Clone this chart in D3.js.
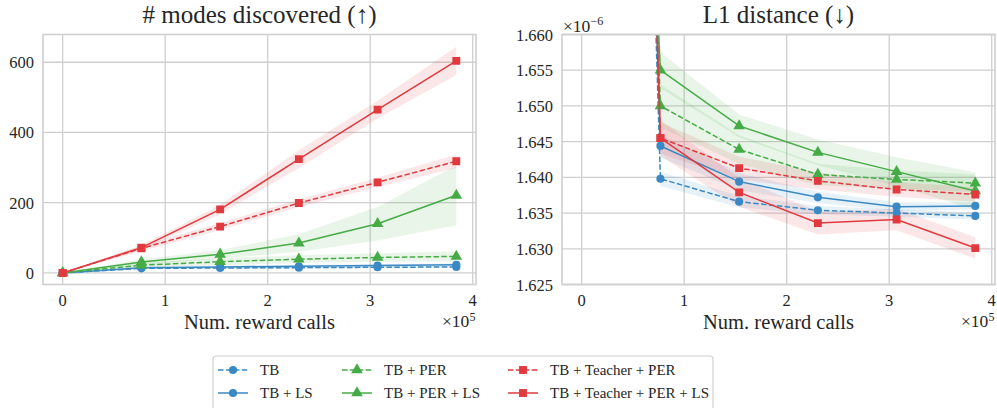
<!DOCTYPE html>
<html><head><meta charset="utf-8">
<script src="https://cdn.jsdelivr.net/npm/d3@7"></script>
</head>
<body style="margin:0;background:#fff">
<svg id="c" width="997" height="408" style="display:block"></svg>
<script>
// ---------- data ----------
const xCalls = [0, 76800, 153600, 230400, 307200, 384000];
const xTicks = [0, 1, 2, 3, 4];            // ×10^5
const seriesNames = ["TB", "TB + LS", "TB + PER", "TB + PER + LS", "TB + Teacher + PER", "TB + Teacher + PER + LS"];

// # modes discovered
const modesTB          = [0, 13, 14, 15, 16, 17];
const modesTBLS        = [0, 15, 17, 19, 21, 23];
const modesPER         = [0, 22, 32, 39, 44, 47];
const modesPERLS       = [0, 31, 53, 85, 140, 221];
const modesTeachPER    = [0, 70, 132, 199, 258, 318];
const modesTeachPERLS  = [0, 72, 181, 324, 465, 604];
// half widths of shaded bands
const modesBandTB         = [0, 2, 3, 3, 3, 3];
const modesBandTBLS       = [0, 3, 3, 4, 4, 4];
const modesBandPER        = [0, 6, 10, 11, 12, 14];
const modesBandPERLS      = [0, 8, 12, 25, 48, 85];
const modesBandTeachPER   = [0, 8, 10, 11, 13, 19];
const modesBandTeachPERLS = [0, 7, 13, 25, 25, 40];
const modesYTicks = [0, 200, 400, 600];

// L1 distance (units of 1e-6)
const l1TB          = [2.00, 1.6398, 1.6366, 1.6354, 1.6350, 1.6346];
const l1TBLS        = [2.00, 1.6444, 1.6394, 1.6372, 1.6359, 1.6360];
const l1PER         = [1.95, 1.6500, 1.6439, 1.6404, 1.6397, 1.6392];
const l1PERLS       = [1.88, 1.6550, 1.6472, 1.6435, 1.6408, 1.6381];
const l1TeachPER    = [2.00, 1.6455, 1.6413, 1.6395, 1.6383, 1.6376];
const l1TeachPERLS  = [2.00, 1.6455, 1.6379, 1.6336, 1.6341, 1.6301];
const l1BandTB         = [0.01, 0.0010, 0.0008, 0.0006, 0.0005, 0.0005];
const l1BandTBLS       = [0.01, 0.0016, 0.0012, 0.0008, 0.0006, 0.0005];
const l1BandPER        = [0.01, 0.0030, 0.0020, 0.0015, 0.0013, 0.0012];
const l1BandPERLS      = [0.01, 0.0025, 0.0016, 0.0018, 0.0020, 0.0026];
const l1BandTeachPER   = [0.01, 0.0022, 0.0016, 0.0012, 0.0010, 0.0010];
const l1BandTeachPERLS = [0.01, 0.0025, 0.0020, 0.0016, 0.0015, 0.0015];
const l1YTicks = [1.625, 1.630, 1.635, 1.640, 1.645, 1.650, 1.655, 1.660];

// ---------- styles ----------
const FONT = '"Liberation Serif"';
const colors = {blue:"#3a89c4", green:"#45ac45", red:"#e0393e"};
const styles = [
  {c:colors.blue,  dash:true,  m:"circle"},
  {c:colors.blue,  dash:false, m:"circle"},
  {c:colors.green, dash:true,  m:"triangle"},
  {c:colors.green, dash:false, m:"triangle"},
  {c:colors.red,   dash:true,  m:"square"},
  {c:colors.red,   dash:false, m:"square"}
];
const modesSeries = [modesTB, modesTBLS, modesPER, modesPERLS, modesTeachPER, modesTeachPERLS];
const modesBands  = [modesBandTB, modesBandTBLS, modesBandPER, modesBandPERLS, modesBandTeachPER, modesBandTeachPERLS];
const l1Series = [l1TB, l1TBLS, l1PER, l1PERLS, l1TeachPER, l1TeachPERLS];
const l1Bands  = [l1BandTB, l1BandTBLS, l1BandPER, l1BandPERLS, l1BandTeachPER, l1BandTeachPERLS];

const svg = d3.select("#c");
const gridCol = "#cfcfcf", textCol = "#262626";
const symbols = {circle:d3.symbolCircle, triangle:d3.symbolTriangle, square:d3.symbolSquare};
const symSize = {circle:52, triangle:58, square:62};

function txt(sel, size){ return sel.style("font-family", FONT).style("font-size", size+"px").attr("fill", textCol); }

function drawPanel(opt){
  const {x0,x1,y0,y1,yDomain,yTicks,yFmt,series,bands,title,id} = opt;
  const x = d3.scaleLinear().domain([-0.192e5, 4.032e5]).range([x0,x1]);
  const y = d3.scaleLinear().domain(yDomain).range([y1,y0]);
  const g = svg.append("g");
  g.append("clipPath").attr("id",id).append("rect")
    .attr("x",x0).attr("y",y0).attr("width",x1-x0).attr("height",y1-y0);
  // grid
  g.append("g").selectAll("line").data(xTicks).join("line")
    .attr("x1",d=>x(d*1e5)).attr("x2",d=>x(d*1e5)).attr("y1",y0).attr("y2",y1)
    .attr("stroke",gridCol).attr("stroke-width",1.3);
  g.append("g").selectAll("line").data(yTicks).join("line")
    .attr("y1",d=>y(d)).attr("y2",d=>y(d)).attr("x1",x0).attr("x2",x1)
    .attr("stroke",gridCol).attr("stroke-width",1.3);
  const plot = g.append("g").attr("clip-path",`url(#${id})`);
  // bands
  series.forEach((s,i)=>{
    const area = d3.area().x((d,j)=>x(xCalls[j])).y0((d,j)=>y(d-bands[i][j])).y1((d,j)=>y(d+bands[i][j]));
    plot.append("path").attr("d",area(s)).attr("fill",styles[i].c).attr("fill-opacity",0.12);
  });
  // lines
  series.forEach((s,i)=>{
    const line = d3.line().x((d,j)=>x(xCalls[j])).y(d=>y(d));
    plot.append("path").attr("d",line(s)).attr("fill","none").attr("stroke",styles[i].c)
      .attr("stroke-width",1.5).attr("stroke-dasharray",styles[i].dash?"5.5,2.4":null);
    plot.append("g").selectAll("path").data(s).join("path")
      .attr("transform",(d,j)=>`translate(${x(xCalls[j])},${y(d)})`)
      .attr("d",d3.symbol().type(symbols[styles[i].m]).size(symSize[styles[i].m]))
      .attr("fill",styles[i].c);
  });
  // frame
  g.append("rect").attr("x",x0).attr("y",y0).attr("width",x1-x0).attr("height",y1-y0)
    .attr("fill","none").attr("stroke",gridCol).attr("stroke-width",1.6);
  // tick labels
  txt(g.append("g").selectAll("text").data(xTicks).join("text"), 16.5)
    .attr("x",d=>x(d*1e5)).attr("y",y1+21).attr("text-anchor","middle").text(d=>d);
  txt(g.append("g").selectAll("text").data(yTicks).join("text"), 16.5)
    .attr("x",x0-9).attr("y",d=>y(d)+6).attr("text-anchor","end").text(yFmt);
  // axis label
  txt(g.append("text"), 20.5).attr("x",(x0+x1)/2).attr("y",329).attr("text-anchor","middle")
    .text("Num. reward calls");
  const off = txt(g.append("text"), 17.5).attr("x",x1-34).attr("y",326.5);
  off.append("tspan").text("×10");
  off.append("tspan").attr("dy",-6).style("font-size","12px").text("5");
  // title
  txt(g.append("text"), 25).attr("x",(x0+x1)/2).attr("y",23).attr("text-anchor","middle").text(title);
  return {x,y,g};
}

drawPanel({x0:43,x1:476,y0:34.5,y1:284.5,yDomain:[-33,679],yTicks:modesYTicks,yFmt:d=>d,
  series:modesSeries,bands:modesBands,title:"# modes discovered (↑)",id:"clipL"});
const R = drawPanel({x0:562,x1:995,y0:34.5,y1:284.5,yDomain:[1.625,1.660],yTicks:l1YTicks,yFmt:d=>d.toFixed(3),
  series:l1Series,bands:l1Bands,title:"L1 distance (↓)",id:"clipR"});
const exp = txt(R.g.append("text"), 17.5).attr("x",563).attr("y",32);
exp.append("tspan").text("×10");
exp.append("tspan").attr("dy",-7).style("font-size","12px").text("−6");

// ---------- legend ----------
const lg = svg.append("g");
lg.append("rect").attr("x",213).attr("y",356).attr("width",500).attr("height",60).attr("rx",3)
  .attr("fill","#fff").attr("stroke","#d0d0d0").attr("stroke-width",1.2);
const colX = [218, 342, 508];
const rowY = [370, 393];
seriesNames.forEach((name,i)=>{
  const col = Math.floor(i/2), row = i%2;
  const hx = colX[col], hy = rowY[row];
  lg.append("line").attr("x1",hx).attr("x2",hx+30).attr("y1",hy).attr("y2",hy)
    .attr("stroke",styles[i].c).attr("stroke-width",1.5).attr("stroke-dasharray",styles[i].dash?"5.5,2.4":null);
  lg.append("path").attr("transform",`translate(${hx+15},${hy})`)
    .attr("d",d3.symbol().type(symbols[styles[i].m]).size(symSize[styles[i].m]))
    .attr("fill",styles[i].c);
  txt(lg.append("text"), 15).attr("x",hx+42).attr("y",hy+5).text(name);
});
</script>
</body></html>
